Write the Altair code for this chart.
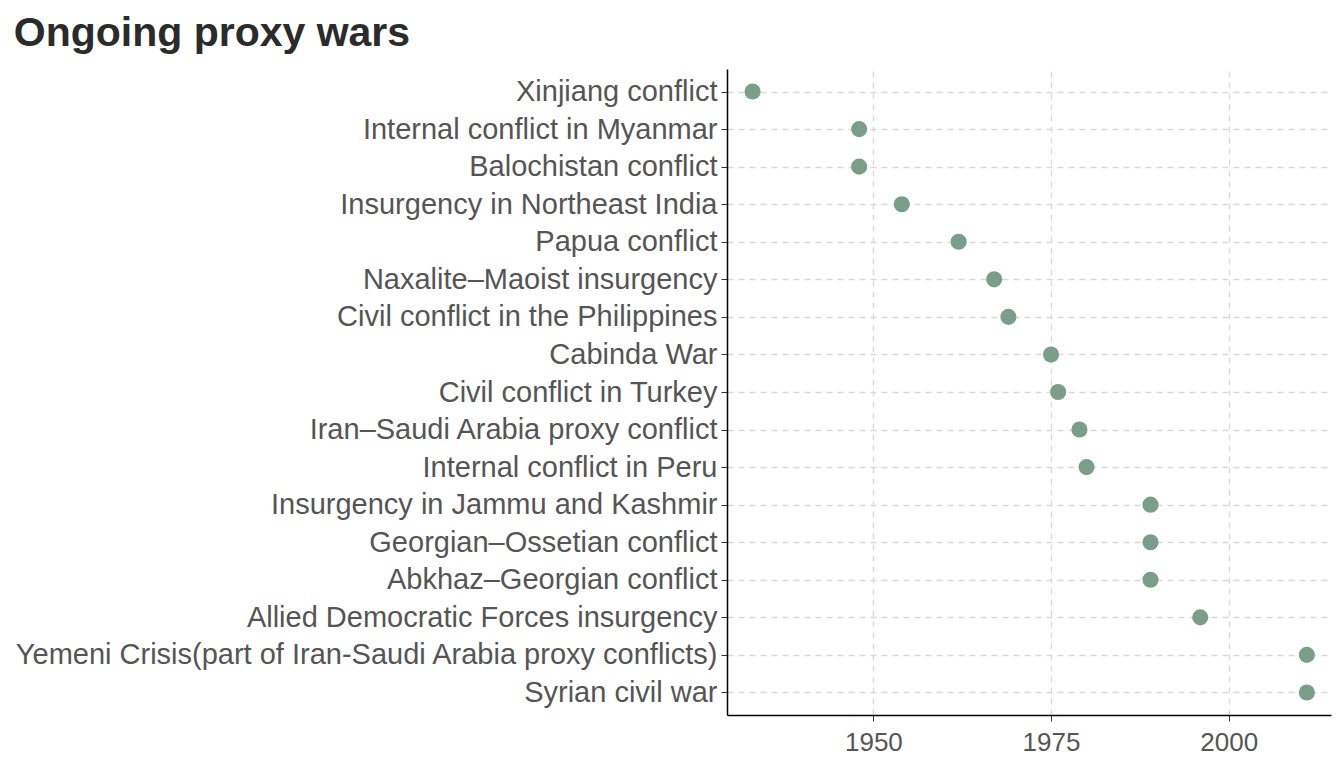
import pandas as pd
import altair as alt

conflicts = [
    "Xinjiang conflict", "Internal conflict in Myanmar", "Balochistan conflict",
    "Insurgency in Northeast India", "Papua conflict", "Naxalite–Maoist insurgency",
    "Civil conflict in the Philippines", "Cabinda War", "Civil conflict in Turkey",
    "Iran–Saudi Arabia proxy conflict", "Internal conflict in Peru",
    "Insurgency in Jammu and Kashmir", "Georgian–Ossetian conflict",
    "Abkhaz–Georgian conflict", "Allied Democratic Forces insurgency",
    "Yemeni Crisis(part of Iran-Saudi Arabia proxy conflicts)", "Syrian civil war",
]
start_years = [1933, 1948, 1948, 1954, 1962, 1967, 1969, 1975, 1976,
               1979, 1980, 1989, 1989, 1989, 1996, 2011, 2011]

df = pd.DataFrame({"conflict": conflicts, "year": start_years})

chart = alt.Chart(df).mark_circle(size=260, color="#7a9e8a", opacity=1).encode(
    x=alt.X("year:Q", title=None,
            scale=alt.Scale(domain=[1929.4, 2014.4], nice=False, zero=False),
            axis=alt.Axis(values=[1950, 1975, 2000], format="d")),
    y=alt.Y("conflict:N", sort=conflicts, title=None,
            scale=alt.Scale(type="point", padding=0.6)),
).properties(
    title="Ongoing proxy wars",
    width=1328, height=752,
    autosize=alt.AutoSizeParams(type="fit", contains="padding"),
).configure_view(
    stroke=None
).configure_axis(
    labelFont="Liberation Sans", labelFontSize=24, labelColor="#555555",
    domainColor="black", domainWidth=1.5, tickColor="#333333", tickSize=6,
    grid=True, gridColor="#d9d9d9", gridDash=[6, 5], gridWidth=1.3,
    labelLimit=900, labelPadding=4,
).configure_axisY(
    labelFontSize=29
).configure_axisX(
    domain=True, labelPadding=8, labelFontSize=26
).configure_title(
    font="Liberation Sans", fontSize=41, fontWeight="bold", color="#2b2b2b",
    anchor="start", offset=14,
)

chart.save("out.html", embed_options={"renderer": "svg", "actions": False})
